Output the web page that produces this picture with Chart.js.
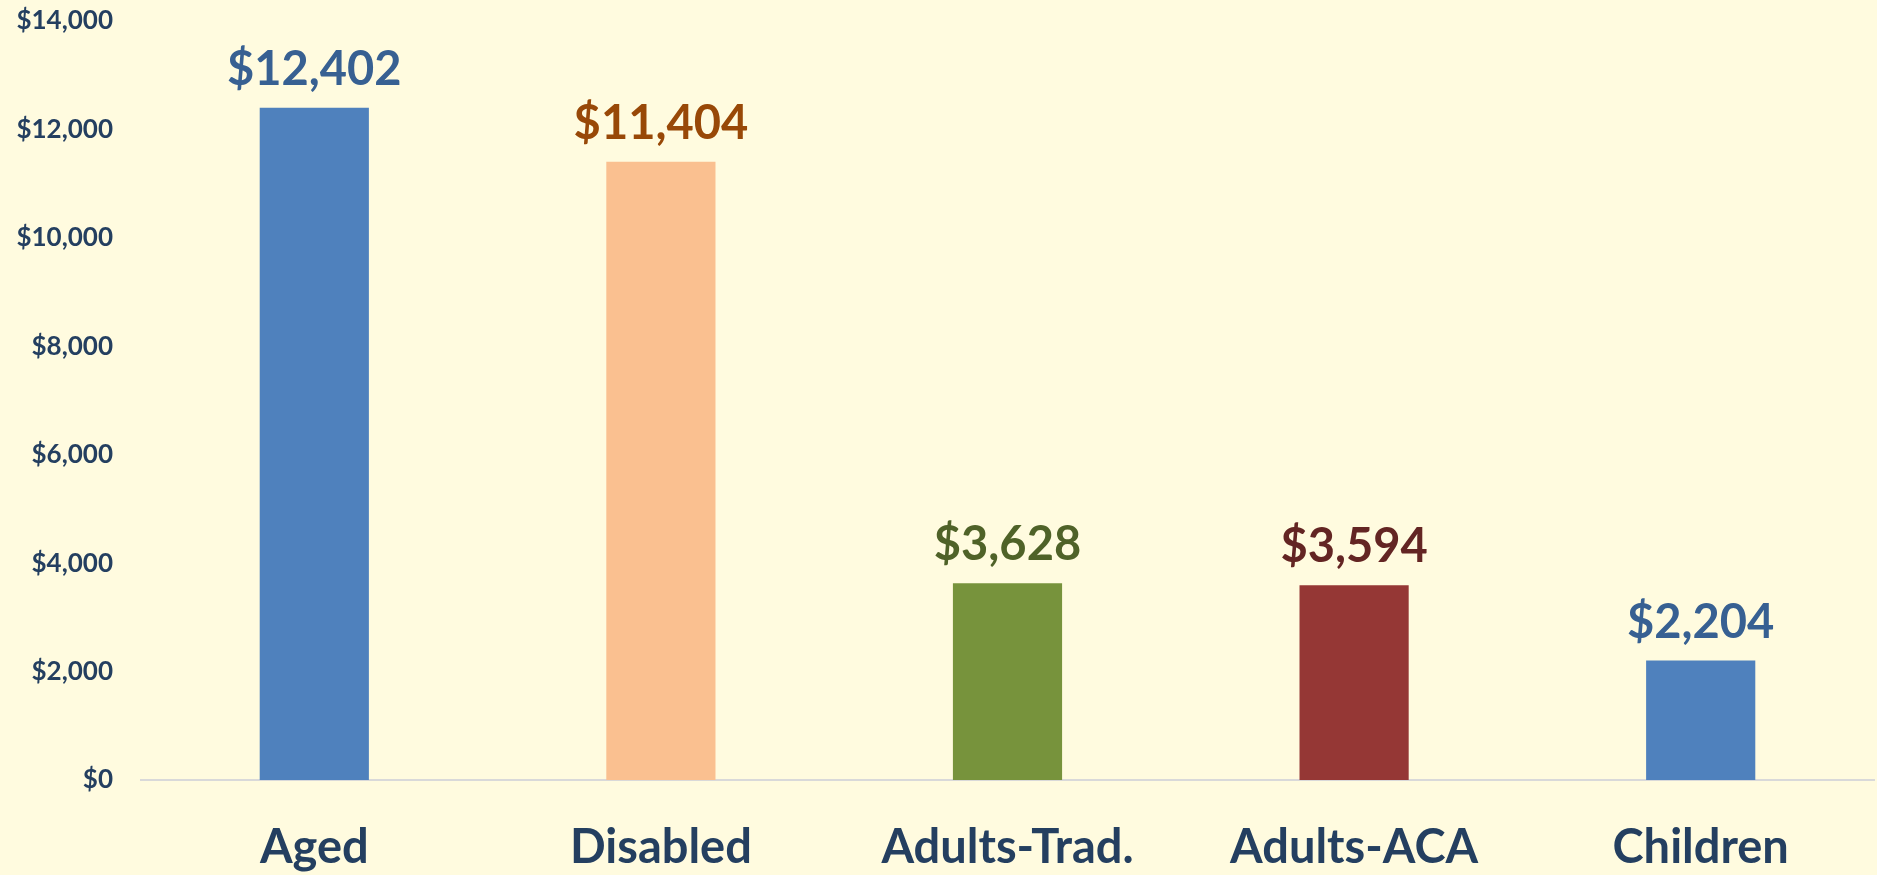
<!DOCTYPE html>
<html>
<head>
<meta charset="utf-8">
<script src="https://cdn.jsdelivr.net/npm/chart.js@4"></script>
<style>
  html, body { margin: 0; padding: 0; background: #fffbdf; }
  #wrap { width: 1877px; height: 875px; }
</style>
</head>
<body>
<div id="wrap"><canvas id="myChart"></canvas></div>
<script>
"use strict";

const categories = ["Aged", "Disabled", "Adults-Trad.", "Adults-ACA", "Children"];
const spending = [12402, 11404, 3628, 3594, 2204];
const barColors = ["#4f81bd", "#fac090", "#77933c", "#953735", "#4f81bd"];
const labelColors = ["#376092", "#984807", "#4f6228", "#632523", "#376092"];
const yTicks = [0, 2000, 4000, 6000, 8000, 10000, 12000, 14000];

const textColor = "#243f60";
const fontFamily = "Lato, 'Open Sans', sans-serif";

function money(v) {
    return "$" + v.toLocaleString("en-US");
}

const valueLabels = {
    id: "valueLabels",
    afterDatasetsDraw(chart) {
        const ctx = chart.ctx;
        const meta = chart.getDatasetMeta(0);
        ctx.save();
        ctx.font = "bold 47px " + fontFamily;
        ctx.textAlign = "center";
        ctx.textBaseline = "alphabetic";
        meta.data.forEach(function (bar, i) {
            ctx.fillStyle = labelColors[i];
            ctx.fillText(money(spending[i]), bar.x, bar.y - 23);
        });
        ctx.restore();
    }
};

const ctx = document.getElementById("myChart");
const chart = new Chart(ctx, {
    type: "bar",
    data: {
        labels: categories,
        datasets: [{
            data: spending,
            backgroundColor: barColors,
            borderWidth: 0,
            categoryPercentage: 1,
            barPercentage: 0.315
        }]
    },
    options: {
        responsive: true,
        maintainAspectRatio: false,
        animation: false,
        layout: { padding: { top: 0, right: 3, left: 0, bottom: 0 } },
        plugins: {
            legend: { display: false },
            tooltip: { enabled: false }
        },
        scales: {
            x: {
                grid: { display: false, drawTicks: false },
                border: { display: true, color: "#d9d9d9", width: 2 },
                ticks: {
                    color: textColor,
                    font: { family: fontFamily, size: 47, weight: "bold" },
                    padding: 40,
                    maxRotation: 0
                },
                afterFit: function (scale) { scale.height = 95; }
            },
            y: {
                min: 0,
                max: 14000,
                grid: { display: false, drawTicks: false },
                border: { display: false },
                afterBuildTicks: function (scale) {
                    scale.ticks = yTicks.map(function (v) { return { value: v }; });
                },
                ticks: {
                    color: textColor,
                    font: { family: fontFamily, size: 26, weight: "bold" },
                    padding: 28,
                    callback: function (v) { return money(v); }
                },
                afterFit: function (scale) {
                    scale.width = 141;
                    scale.paddingTop = 21;
                    scale.paddingBottom = 0;
                }
            }
        }
    },
    plugins: [valueLabels]
});
</script>
</body>
</html>
